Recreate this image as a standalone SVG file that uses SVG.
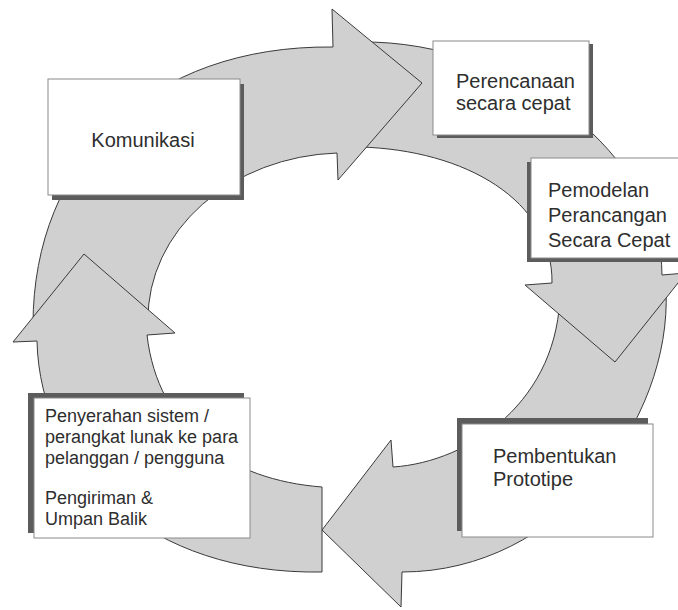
<svg xmlns="http://www.w3.org/2000/svg" width="678" height="610" viewBox="0 0 678 610">
  <style>
    .arrow { fill: #d0d0d0; stroke: #3a3a3a; stroke-width: 1; stroke-linejoin: miter; }
    .box { fill: #ffffff; stroke: #8a8a8a; stroke-width: 1; }
    .shadow { fill: #5c5c5c; }
    .label { font-family: "Liberation Sans", Arial, sans-serif; font-size: 20px; fill: #2e2e2e; }
    .small { font-size: 18px; }
  </style>
  <rect x="0" y="0" width="678" height="610" fill="#ffffff"/>

  <!-- Curved cycle arrows (drawn so each head overlaps the next tail) -->
  <g id="connectors">
    <!-- Pembentukan -> Penyerahan (bottom, pointing left) -->
    <path id="arrow-prototipe-penyerahan" class="arrow"
          d="M 560 290 L 666 290 C 672 420 560 572 402 572 L 401 607 L 322 530 L 391 440 L 393 467 C 470 462 560 400 560 290 Z"/>
    <!-- Perencanaan -> Pemodelan -> Pembentukan (right, pointing down) -->
    <path id="arrow-perencanaan-pemodelan" class="arrow"
          d="M 360 147 L 360 42 C 520 40 662 160 662 275 L 686 273 L 615 362 L 525 285 L 552 283 C 553 200 465 150 360 147 Z"/>
    <!-- Komunikasi -> Perencanaan (top, pointing right) -->
    <path id="arrow-komunikasi-perencanaan" class="arrow"
          d="M 33 325 C 33 160 150 45 333 47 L 332 9 L 422 83 L 338 180 L 337 153 A 197 166 0 0 0 148 320 Z"/>
    <!-- Penyerahan -> Komunikasi (left, pointing up) -->
    <path id="arrow-penyerahan-komunikasi" class="arrow"
          d="M 322 572 C 150 575 40 470 37 341 L 13 342 L 84 254 L 175 333 L 147 335 C 158 430 230 480 322 487 Z"/>
  </g>

  <g id="node-komunikasi">
    <rect class="shadow" x="52" y="84" width="192" height="116"/>
    <rect class="box" x="48" y="79" width="192" height="116"/>
    <text class="label" x="143" y="147" text-anchor="middle">Komunikasi</text>
  </g>

  <g id="node-perencanaan">
    <rect class="shadow" x="437" y="44" width="156" height="94"/>
    <rect class="box" x="433" y="41" width="156" height="94"/>
    <text class="label" x="456" y="88">Perencanaan</text>
    <text class="label" x="456" y="110">secara cepat</text>
  </g>

  <g id="node-pemodelan">
    <rect class="shadow" x="527" y="162" width="156" height="100"/>
    <rect class="box" x="531" y="158" width="156" height="100"/>
    <text class="label" x="548" y="197">Pemodelan</text>
    <text class="label" x="548" y="222">Perancangan</text>
    <text class="label" x="548" y="247">Secara Cepat</text>
  </g>

  <g id="node-pembentukan">
    <rect class="shadow" x="457" y="418" width="191" height="113"/>
    <rect class="box" x="462" y="424" width="191" height="113"/>
    <text class="label" x="493" y="463">Pembentukan</text>
    <text class="label" x="493" y="486">Prototipe</text>
  </g>

  <g id="node-penyerahan">
    <rect class="shadow" x="28" y="393" width="216" height="140"/>
    <rect class="box" x="34" y="398" width="216" height="140"/>
    <text class="label small" x="45" y="422">Penyerahan sistem /</text>
    <text class="label small" x="45" y="443">perangkat lunak ke para</text>
    <text class="label small" x="45" y="464">pelanggan / pengguna</text>
    <text class="label small" x="45" y="504">Pengiriman &amp;</text>
    <text class="label small" x="45" y="525">Umpan Balik</text>
  </g>
</svg>
